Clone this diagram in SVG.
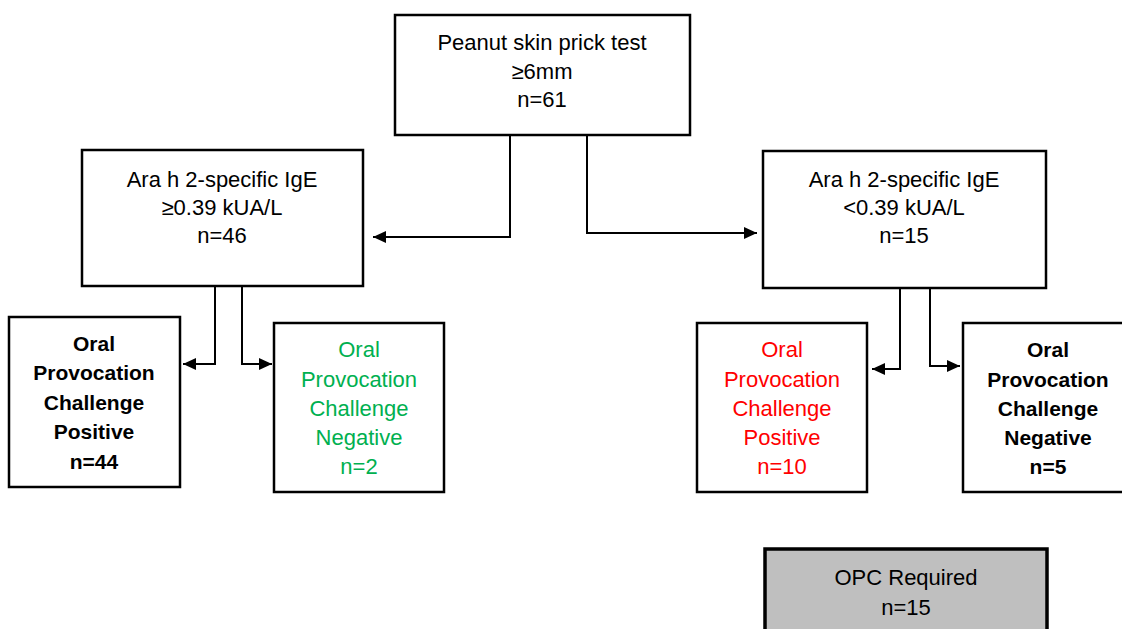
<svg xmlns="http://www.w3.org/2000/svg" width="1122" height="629" viewBox="0 0 1122 629">
<defs>
<marker id="ah" markerWidth="13" markerHeight="12" refX="13" refY="6" orient="auto" markerUnits="userSpaceOnUse">
<path d="M0,0 L13,6 L0,12 Z" fill="#000"/>
</marker>
<style>
.box{fill:#fff;stroke:#000;stroke-width:2.5}
.gray{fill:#bfbfbf;stroke:#000;stroke-width:3.5}
text{font-family:"Liberation Sans",Arial,sans-serif;font-size:22px;text-anchor:middle;fill:#000}
.b{font-weight:bold;font-size:21px}
.g{fill:#00b050}
.r{fill:#ff0000}
.c{fill:none;stroke:#000;stroke-width:2;marker-end:url(#ah)}
</style>
</defs>
<rect width="1122" height="629" fill="#fff"/>
<g id="connectors">
<path class="c" d="M510,135 V237 H373"/>
<path class="c" d="M587,135 V233 H757"/>
<path class="c" d="M215,286 V364 H183"/>
<path class="c" d="M242,286 V364 H272"/>
<path class="c" d="M900,288 V369 H872"/>
<path class="c" d="M930,288 V366 H960"/>
</g>
<g id="spt">
<rect class="box" x="395" y="15" width="295" height="120"/>
<text x="542" y="50">Peanut skin prick test</text>
<text x="542" y="79">≥6mm</text>
<text x="542" y="107">n=61</text>
</g>
<g id="ige-high">
<rect class="box" x="82" y="150" width="281" height="136"/>
<text x="222" y="187">Ara h 2-specific IgE</text>
<text x="222" y="215">≥0.39 kUA/L</text>
<text x="222" y="243">n=46</text>
</g>
<g id="ige-low">
<rect class="box" x="763" y="151" width="283" height="137"/>
<text x="904" y="187">Ara h 2-specific IgE</text>
<text x="904" y="215">&lt;0.39 kUA/L</text>
<text x="904" y="243">n=15</text>
</g>
<g id="opc-pos-high">
<rect class="box" x="9" y="317" width="171" height="170"/>
<text class="b" x="94" y="351">Oral</text>
<text class="b" x="94" y="380">Provocation</text>
<text class="b" x="94" y="410">Challenge</text>
<text class="b" x="94" y="439">Positive</text>
<text class="b" x="94" y="469">n=44</text>
</g>
<g id="opc-neg-high">
<rect class="box" x="274" y="323" width="170" height="169"/>
<text class="g" x="359" y="357">Oral</text>
<text class="g" x="359" y="387">Provocation</text>
<text class="g" x="359" y="416">Challenge</text>
<text class="g" x="359" y="445">Negative</text>
<text class="g" x="359" y="474">n=2</text>
</g>
<g id="opc-pos-low">
<rect class="box" x="697" y="323" width="170" height="169"/>
<text class="r" x="782" y="357">Oral</text>
<text class="r" x="782" y="387">Provocation</text>
<text class="r" x="782" y="416">Challenge</text>
<text class="r" x="782" y="445">Positive</text>
<text class="r" x="782" y="474">n=10</text>
</g>
<g id="opc-neg-low">
<rect class="box" x="963" y="323" width="172" height="169"/>
<text class="b" x="1048" y="357">Oral</text>
<text class="b" x="1048" y="387">Provocation</text>
<text class="b" x="1048" y="416">Challenge</text>
<text class="b" x="1048" y="445">Negative</text>
<text class="b" x="1048" y="474">n=5</text>
</g>
<g id="opc-required">
<rect class="gray" x="765" y="549" width="282" height="100"/>
<text x="906" y="585">OPC Required</text>
<text x="906" y="615">n=15</text>
</g>
</svg>
